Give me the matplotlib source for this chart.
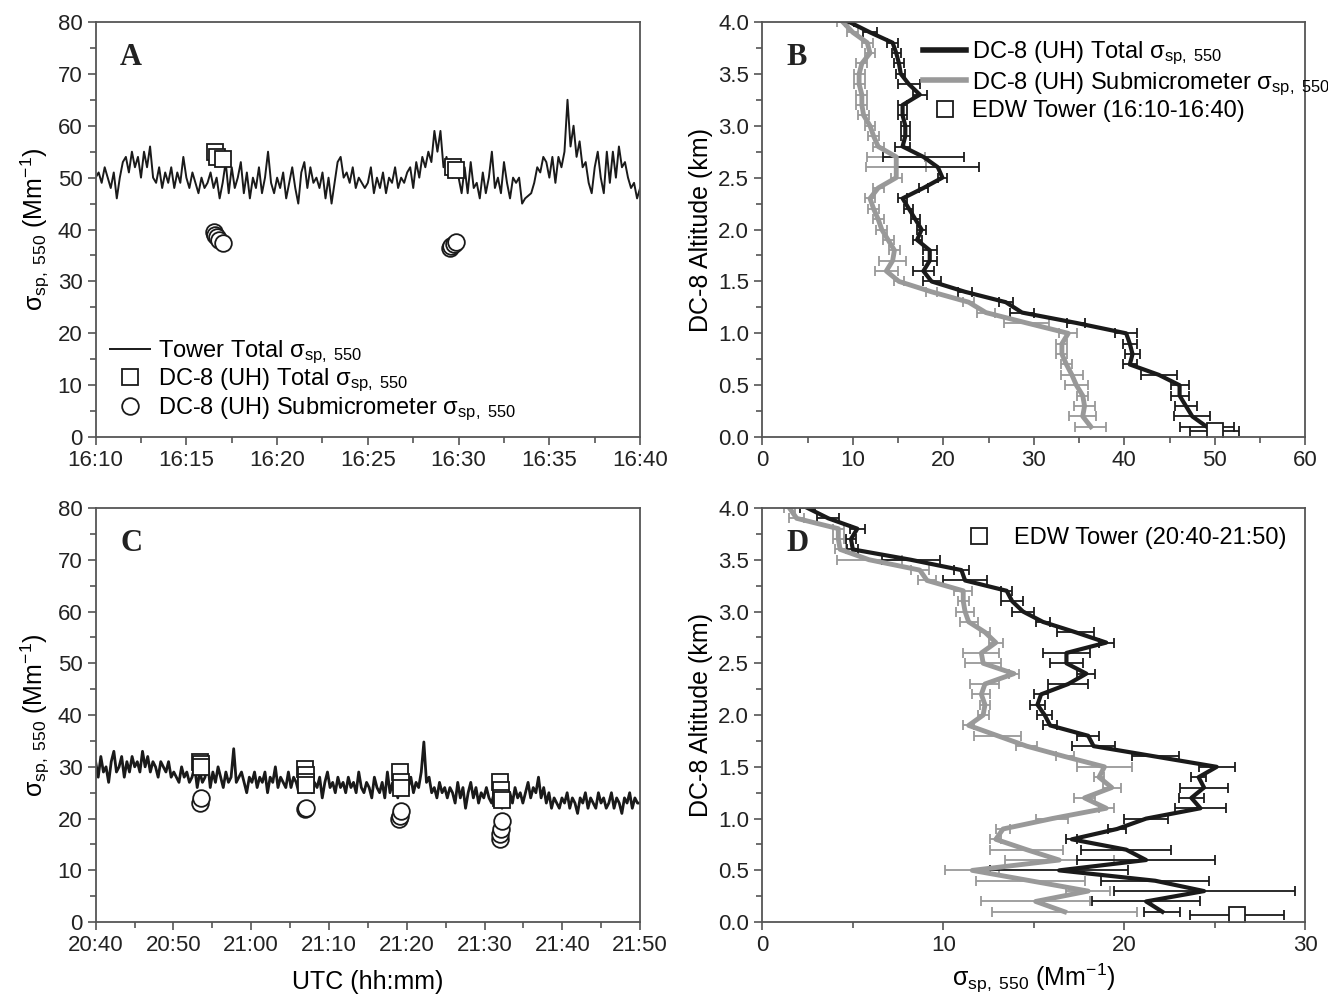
"""
EDW tower vs DC-8 scattering: time series (A, C) and vertical profiles (B, D).
"""
import numpy as np
import matplotlib
matplotlib.use("Agg")
import matplotlib.pyplot as plt
from matplotlib.ticker import MultipleLocator, FormatStrFormatter
from matplotlib.lines import Line2D

plt.rcParams["font.family"] = ["Liberation Sans", "DejaVu Sans"]
plt.rcParams["mathtext.fontset"] = "custom"
plt.rcParams["mathtext.rm"] = "Liberation Sans"
plt.rcParams["mathtext.it"] = "Liberation Sans:italic"
plt.rcParams["mathtext.bf"] = "Liberation Sans:bold"

GRAY = "#999999"
INK = "#1a1a1a"
SPINE = "#555555"

# ---- panel A: tower total, 16:10-16:40 (minutes after 16:10) ----
tower_a = [
    50, 51, 49, 52, 50, 48, 51, 46, 50, 53, 54, 51, 55, 52, 54, 50, 55, 52, 56, 50,
    49, 52, 48, 51, 49, 52, 48, 51, 49, 54,
    50, 48, 51, 49, 47, 50, 48, 49, 51, 48, 50, 46, 49, 53, 47, 52, 48, 50, 53, 47,
    51, 46, 50, 48, 52, 47, 50, 55, 49, 47,
    50, 48, 51, 46, 49, 52, 48, 45, 51, 53, 48, 52, 49, 50, 48, 51, 46, 50, 45, 49,
    53, 54, 50, 51, 49, 52, 48, 50, 49, 48,
    49, 52, 47, 50, 48, 51, 47, 50, 49, 52, 48, 50, 49, 51, 52, 48, 53, 50, 54, 52,
    55, 53, 59, 55, 59, 52, 54, 51, 50, 53,
    50, 47, 52, 47, 53, 48, 49, 46, 51, 47, 50, 55, 48, 50, 47, 53, 49, 46, 50, 49,
    50, 45, 46, 46.5, 47, 49, 52, 51, 54, 53,
    50, 54, 49, 54, 52, 55, 65, 56, 60, 54, 57, 52, 53, 49, 47, 52, 55, 50, 47, 55,
    49, 55, 50, 56, 52, 53, 50, 48, 49, 46, 48,
]
sq_a_t = [6.6, 6.7, 7.0, 19.7, 19.85]
sq_a_v = [55, 54, 53.5, 52, 51.5]
ci_a_t = [6.55, 6.6, 6.7, 6.8, 7.0, 19.5, 19.6, 19.75, 19.85]
ci_a_v = [39.5, 39, 38.5, 38, 37.5, 36.5, 36.8, 37.2, 37.6]

# ---- panel C: tower total, 20:40-21:50 (minutes after 20:40) ----
tower_c = [
    31, 28, 32, 29, 30, 27, 31, 33, 29, 30, 32, 28, 31, 29, 32,
    30, 31, 29, 33, 30, 32, 29, 31, 30, 28, 31, 30, 29, 31, 28,
    29, 28, 27, 30, 28, 29, 27, 28, 30, 26, 29, 27, 28, 31, 26,
    29, 27, 30, 28, 26, 29, 27, 28, 33.5, 27, 28, 29, 27, 25, 28,
    27, 29, 26, 28, 27, 29, 25, 28, 27, 30, 26, 28, 27, 26, 29,
    26, 28, 27, 25, 29, 26, 28, 30, 25, 27, 26, 28, 24, 27, 29,
    26, 27, 25, 28, 26, 27, 25, 28, 26, 27, 25, 29, 26, 25, 27,
    26, 24, 28, 26, 25, 27, 24, 29, 25, 27, 26, 24, 28, 25, 27,
    26, 28, 25, 27, 26, 29, 34.8, 27, 28, 25, 26, 24, 27, 25, 26,
    24, 26, 25, 23, 27, 24, 26, 22, 25, 27, 24, 26, 23, 25, 24,
    26, 24, 23, 25, 27, 24, 22, 26, 24, 25, 23, 26, 24, 25, 23,
    25, 27, 24, 26, 25, 28, 24, 26, 23, 25, 22, 24, 23, 22, 24,
    23, 25, 22, 24, 23, 21, 24, 23, 25, 22, 24, 23, 22, 25, 23,
    24, 22, 23, 25, 22, 24, 23, 21, 24, 23, 25, 22, 24, 23, 23,
]
sq_c_t = [13.4, 13.5, 13.6, 26.9, 27.0, 27.0, 27.1, 39.1, 39.2, 39.2, 52.0, 52.1, 52.1, 52.2]
sq_c_v = [31, 30.5, 30, 29.5, 28.5, 27, 26.5, 29, 27, 26, 27, 25.5, 24, 23.5]
ci_c_t = [13.4, 13.6, 26.9, 27.1, 39.0, 39.1, 39.3, 52.0, 52.0, 52.1, 52.2]
ci_c_v = [23, 24, 21.8, 22, 20, 20.5, 21.5, 16, 17, 18, 19.5]

# ---- panel B: profiles, 16:10-16:40 flight ----
alt = [4.0, 3.9, 3.8, 3.7, 3.6, 3.5, 3.4, 3.3, 3.2, 3.1, 3.0, 2.9, 2.8, 2.7,
       2.6, 2.5, 2.4, 2.3, 2.2, 2.1, 2.0, 1.9, 1.8, 1.7, 1.6, 1.5, 1.4, 1.3,
       1.2, 1.1, 1.0, 0.9, 0.8, 0.7, 0.6, 0.5, 0.4, 0.3, 0.2, 0.1]
tot_b = [9.6, 11.9, 14.4, 14.8, 15.1, 15.3, 16.2, 17.4, 15.5, 15.5, 15.8, 15.8,
         15.5, 17.8, 19.4, 19.9, 17.8, 15.5, 16.2, 16.9, 17.6, 17.1, 18.5, 18.5,
         17.8, 18.7, 22.4, 26.9, 28.7, 34.7, 40.2, 40.6, 40.9, 40.6, 43.8, 46.1,
         46.1, 46.8, 47.5, 49.1]
tot_b_err = [0.5, 0.8, 0.6, 0.5, 0.6, 0.5, 1.2, 0.8, 0.5, 0.5, 0.5, 0.5, 0.8, 4.5,
             4.5, 0.5, 0.5, 0.5, 0.5, 0.5, 0.5, 0.5, 0.8, 0.8, 1.2, 1.0, 0.8, 0.8,
             1.3, 1.0, 1.2, 0.8, 0.8, 0.8, 2.0, 1.0, 1.0, 1.2, 2.0, 3.0]
sub_b = [8.9, 10.0, 11.6, 11.9, 11.0, 10.7, 10.7, 11.0, 11.0, 11.2, 11.9, 12.3,
         12.8, 14.8, 14.8, 14.8, 12.8, 11.9, 12.3, 12.8, 13.2, 13.9, 14.6, 14.4,
         13.7, 15.1, 18.7, 22.8, 24.7, 29.2, 33.8, 33.1, 33.1, 33.6, 34.2, 34.7,
         35.4, 35.6, 35.4, 36.3]
sub_b_err = [0.6, 0.6, 0.6, 0.6, 0.6, 0.6, 0.6, 0.6, 0.6, 0.6, 0.6, 0.6, 0.6, 3.2,
             3.3, 0.6, 0.6, 0.6, 0.6, 0.6, 0.6, 0.6, 0.6, 1.5, 1.3, 0.6, 0.6, 0.6,
             1.0, 2.5, 1.0, 0.6, 0.6, 0.6, 1.2, 1.3, 0.6, 1.2, 1.5, 1.7]
tower_b, tower_b_err, tower_b_alt = 50.0, 2.7, 0.06

# ---- panel D: profiles, 20:40-21:50 flight ----
tot_d = [2.5, 3.65, 5.25, 4.9, 5.0, 8.2, 11.0, 11.2, 13.5, 13.8, 14.4, 15.5, 17.3,
         19.0, 16.8, 16.8, 17.9, 16.9, 15.4, 15.2, 15.6, 15.9, 18.0, 18.3, 21.7,
         25.1, 24.1, 24.4, 23.7, 24.2, 21.2, 19.6, 17.1, 20.1, 21.2, 16.4, 21.7,
         24.4, 21.2, 22.1]
tot_d_err = [0.4, 0.6, 0.4, 0.3, 0.3, 1.6, 0.4, 1.2, 0.3, 0.6, 0.6, 0.4, 1.0, 0.4,
             1.3, 0.9, 0.5, 1.1, 0.4, 0.4, 0.4, 0.4, 0.6, 1.2, 1.3, 1.0, 0.4, 1.3,
             0.7, 1.4, 1.2, 0.5, 0.3, 2.5, 3.8, 3.8, 3.0, 5.0, 3.0, 1.0]
sub_d = [1.5, 1.9, 4.2, 4.2, 4.3, 5.9, 8.7, 9.1, 11.1, 11.1, 11.2, 11.4, 12.3,
         12.9, 12.1, 12.2, 13.9, 12.3, 12.1, 12.3, 12.2, 11.4, 13.0, 14.6, 16.7,
         18.9, 18.6, 19.3, 17.8, 19.0, 16.0, 13.3, 12.9, 14.6, 16.4, 11.6, 14.8,
         18.0, 15.1, 16.7]
sub_d_err = [0.3, 0.4, 0.3, 0.3, 0.3, 1.8, 0.5, 0.5, 0.5, 0.3, 0.5, 0.5, 0.3, 0.4,
             1.0, 1.0, 0.3, 0.8, 0.5, 0.3, 0.3, 0.3, 1.3, 0.6, 0.5, 1.5, 0.3, 0.5,
             0.6, 0.4, 0.9, 0.4, 0.3, 2.0, 3.0, 1.5, 3.0, 1.2, 3.0, 4.0]
tower_d, tower_d_err, tower_d_alt = 26.2, 2.6, 0.07

SIG = r"$\mathrm{\sigma_{sp,\ 550}}$"
UNIT = SIG + r" (Mm$^{\mathrm{-1}}$)"

fig = plt.figure(figsize=(13.28, 9.98), dpi=100)
axA = fig.add_axes([0.072, 0.562, 0.410, 0.416])
axB = fig.add_axes([0.574, 0.562, 0.409, 0.416])
axC = fig.add_axes([0.072, 0.076, 0.410, 0.415])
axD = fig.add_axes([0.574, 0.076, 0.409, 0.415])


def style(ax):
    for s in ax.spines.values():
        s.set_color(SPINE)
        s.set_linewidth(1.3)
    ax.tick_params(which="both", direction="out", colors=SPINE, labelcolor="#222222",
                   labelsize=16, width=1.2)
    ax.tick_params(which="major", length=6)
    ax.tick_params(which="minor", length=4)


def letter(ax, s):
    ax.text(0.045, 0.915, s, transform=ax.transAxes, fontsize=22, fontweight="bold",
            family="Liberation Serif", color="#222222", va="center")


# A
tA = np.linspace(0, 30, len(tower_a))
axA.plot(tA, tower_a, color=INK, lw=1.4, label="Tower Total " + SIG)
axA.plot(sq_a_t, sq_a_v, "s", mfc="white", mec=INK, ms=11, mew=1.3,
         label="DC-8 (UH) Total " + SIG)
axA.plot(ci_a_t, ci_a_v, "o", mfc="white", mec=INK, ms=12, mew=1.3,
         label="DC-8 (UH) Submicrometer " + SIG)
axA.set_xlim(0, 30)
axA.set_ylim(0, 80)
axA.set_xticks(np.arange(0, 31, 5))
axA.set_xticklabels(["16:10", "16:15", "16:20", "16:25", "16:30", "16:35", "16:40"])
axA.xaxis.set_minor_locator(MultipleLocator(2.5))
axA.yaxis.set_major_locator(MultipleLocator(10))
axA.yaxis.set_minor_locator(MultipleLocator(5))
axA.set_ylabel(UNIT, fontsize=18)
axA.legend(loc="lower left", bbox_to_anchor=(0.0, 0.0), frameon=False, fontsize=17,
           handlelength=1.7, handletextpad=0.35, labelspacing=0.05, borderaxespad=0.2)
letter(axA, "A")
style(axA)

# C
tC = np.linspace(0, 70, len(tower_c))
axC.plot(tC, tower_c, color=INK, lw=2.0)
axC.plot(sq_c_t, sq_c_v, "s", mfc="white", mec=INK, ms=11, mew=1.3)
axC.plot(ci_c_t, ci_c_v, "o", mfc="white", mec=INK, ms=12, mew=1.3)
axC.set_xlim(0, 70)
axC.set_ylim(0, 80)
axC.set_xticks(np.arange(0, 71, 10))
axC.set_xticklabels(["20:40", "20:50", "21:00", "21:10", "21:20", "21:30", "21:40",
                     "21:50"])
axC.xaxis.set_minor_locator(MultipleLocator(5))
axC.yaxis.set_major_locator(MultipleLocator(10))
axC.yaxis.set_minor_locator(MultipleLocator(5))
axC.set_ylabel(UNIT, fontsize=18)
axC.set_xlabel("UTC (hh:mm)", fontsize=18, labelpad=10)
letter(axC, "C")
style(axC)


def profile(ax, tot, tot_err, sub, sub_err):
    ax.errorbar(sub, alt, xerr=sub_err, color=GRAY, lw=3.5, elinewidth=1.3,
                capsize=3.5, capthick=1.3, ecolor=GRAY)
    ax.errorbar(tot, alt, xerr=tot_err, color=INK, lw=3.0, elinewidth=1.3,
                capsize=3.5, capthick=1.3, ecolor=INK)
    ax.set_ylim(0, 4)
    ax.yaxis.set_major_locator(MultipleLocator(0.5))
    ax.yaxis.set_minor_locator(MultipleLocator(0.25))
    ax.yaxis.set_major_formatter(FormatStrFormatter("%.1f"))
    ax.xaxis.set_major_locator(MultipleLocator(10))
    ax.xaxis.set_minor_locator(MultipleLocator(5))
    ax.set_ylabel("DC-8 Altitude (km)", fontsize=18)


def tower_mark(ax, x, y, err):
    ax.errorbar([x], [y], xerr=[err], fmt="s", mfc="white", mec=INK, ms=11,
                mew=1.3, ecolor=INK, elinewidth=1.3, capsize=3.5)


sq_handle = Line2D([], [], ls="none", marker="s", mfc="white", mec=INK, ms=11, mew=1.3)

# B
profile(axB, tot_b, tot_b_err, sub_b, sub_b_err)
tower_mark(axB, tower_b, tower_b_alt, tower_b_err)
axB.set_xlim(0, 60)
hB = [Line2D([], [], color=INK, lw=4), Line2D([], [], color=GRAY, lw=4), sq_handle]
axB.legend(hB, ["DC-8 (UH) Total " + SIG, "DC-8 (UH) Submicrometer " + SIG,
                "EDW Tower (16:10-16:40)"],
           loc="upper left", bbox_to_anchor=(0.275, 0.985), frameon=False,
           fontsize=17, handlelength=1.8, handletextpad=0.25, labelspacing=0.12,
           borderaxespad=0.1)
letter(axB, "B")
style(axB)

# D
profile(axD, tot_d, tot_d_err, sub_d, sub_d_err)
tower_mark(axD, tower_d, tower_d_alt, tower_d_err)
axD.set_xlim(0, 30)
axD.legend([sq_handle], ["EDW Tower (20:40-21:50)"], loc="upper right",
           frameon=False, fontsize=17, handletextpad=0.5, borderaxespad=0.4)
axD.set_xlabel(UNIT, fontsize=18, labelpad=4)
letter(axD, "D")
style(axD)

fig.savefig("out.png", dpi=100)
